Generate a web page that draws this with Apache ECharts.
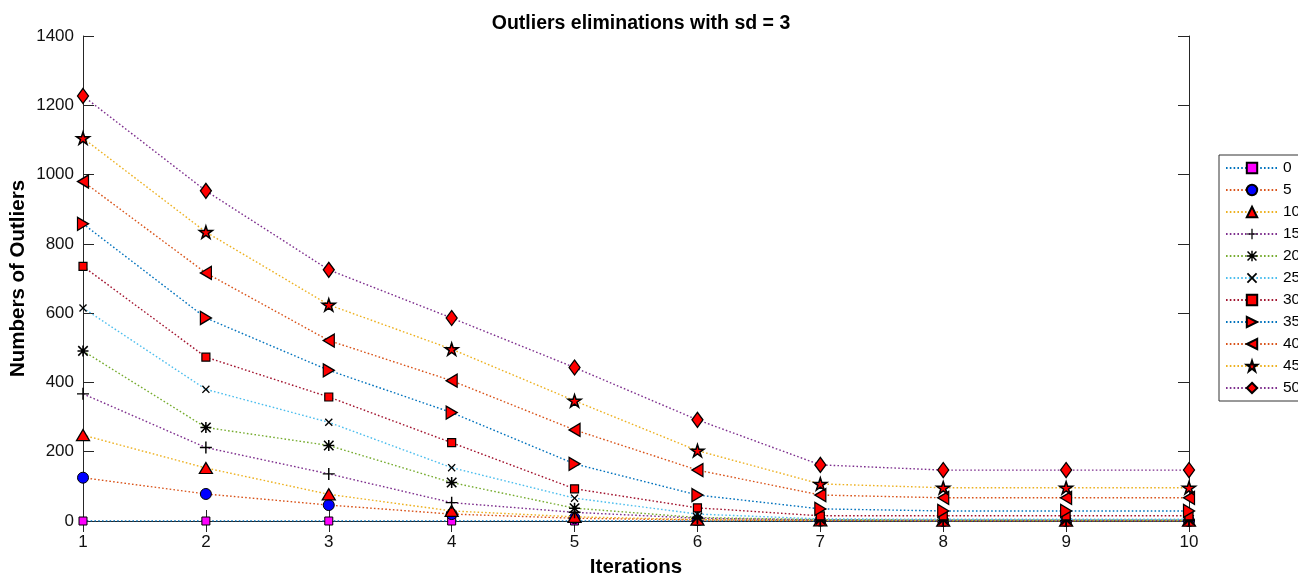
<!DOCTYPE html>
<html>
<head>
<meta charset="utf-8">
<script src="https://cdn.jsdelivr.net/npm/echarts@6/dist/echarts.min.js"></script>
<style>
html,body{margin:0;padding:0;background:#fff;}
#chart{width:1298px;height:578px;}
</style>
</head>
<body>
<div id="chart"></div>
<script>
// ---- data ----
var iterations = [1, 2, 3, 4, 5, 6, 7, 8, 9, 10];
var seriesNames = ['0', '5', '10', '15', '20', '25', '30', '35', '40', '45', '50'];
var s0  = [0, 0, 0, 0, 0, 0, 0, 0, 0, 0];
var s5  = [125, 78, 46, 20, 8, 3, 1, 0, 0, 0];
var s10 = [248, 153, 77, 29, 12, 4, 2, 1, 1, 1];
var s15 = [367, 212, 136, 53, 25, 8, 3, 2, 2, 2];
var s20 = [491, 270, 218, 111, 37, 10, 4, 3, 3, 3];
var s25 = [615, 380, 285, 154, 66, 20, 6, 5, 5, 5];
var s30 = [735, 473, 358, 226, 93, 38, 15, 15, 15, 15];
var s35 = [858, 586, 435, 313, 165, 75, 35, 29, 29, 29];
var s40 = [980, 716, 521, 405, 263, 147, 75, 67, 67, 67];
var s45 = [1105, 834, 624, 496, 347, 203, 107, 96, 96, 96];
var s50 = [1227, 953, 725, 586, 443, 292, 162, 147, 147, 147];
var yTicks = [0, 200, 400, 600, 800, 1000, 1200, 1400];

var allValues = [s0, s5, s10, s15, s20, s25, s30, s35, s40, s45, s50];

// ---- styles ----
var lineColors = ['#0072BD', '#D95319', '#EDB120', '#7E2F8E', '#77AC30', '#4DBEEE', '#A2142F', '#0072BD', '#D95319', '#EDB120', '#7E2F8E'];
var PLUS = 'path://M4.4,0 H5.6 V4.4 H10 V5.6 H5.6 V10 H4.4 V5.6 H0 V4.4 H4.4 Z';
var XS = 'path://M0,1.2 L1.2,0 L5,3.8 L8.8,0 L10,1.2 L6.2,5 L10,8.8 L8.8,10 L5,6.2 L1.2,10 L0,8.8 L3.8,5 Z';
var AST = 'path://M4.3,0 H5.7 V4.3 H10 V5.7 H5.7 V10 H4.3 V5.7 H0 V4.3 H4.3 Z M1.2,0.2 L5,4 L8.8,0.2 L9.8,1.2 L6,5 L9.8,8.8 L8.8,9.8 L5,6 L1.2,9.8 L0.2,8.8 L4,5 L0.2,1.2 Z';
var STAR = 'path://M100,0 L122.45,69.1 L195.1,69.1 L136.3,111.8 L158.8,180.9 L100,138.2 L41.2,180.9 L63.7,111.8 L4.9,69.1 L77.55,69.1 Z';
var RTRI = 'path://M0,0 L10,5 L0,10 Z';
var LTRI = 'path://M10,0 L0,5 L10,10 Z';
var markers = [
  {symbol: 'rect', size: 8, fill: '#FF00FF', border: '#000', bw: 1},
  {symbol: 'circle', size: 11, fill: '#0000FF', border: '#000', bw: 1},
  {symbol: 'triangle', size: [13, 11], fill: '#FF0000', border: '#000', bw: 1.3},
  {symbol: PLUS, size: 12, fill: '#000', border: '#000', bw: 0},
  {symbol: AST, size: 11, fill: '#000', border: '#000', bw: 0},
  {symbol: XS, size: 8, fill: '#000', border: '#000', bw: 0},
  {symbol: 'rect', size: 8, fill: '#FF0000', border: '#000', bw: 1.2},
  {symbol: RTRI, size: [11, 13], fill: '#FF0000', border: '#000', bw: 1.3},
  {symbol: LTRI, size: [11, 13], fill: '#FF0000', border: '#000', bw: 1.3},
  {symbol: STAR, size: 13, fill: '#FF0000', border: '#000', bw: 1.5},
  {symbol: 'diamond', size: [11, 15], fill: '#FF0000', border: '#000', bw: 1.3}
];

var FONT = 'Liberation Sans, Arial, Helvetica, sans-serif';
var AX = '#262626';

var series = seriesNames.map(function (name, i) {
  var m = markers[i];
  return {
    name: name,
    type: 'line',
    data: iterations.map(function (x, k) { return [x, allValues[i][k]]; }),
    symbol: m.symbol,
    symbolSize: m.size,
    symbolKeepAspect: true,
    showAllSymbol: true,
    animation: false,
    lineStyle: {color: lineColors[i], width: 1.4, type: [1.6, 2.2]},
    itemStyle: {color: m.fill, borderColor: m.border, borderWidth: m.bw, opacity: 1},
    emphasis: {disabled: true},
    z: 2 + i
  };
});

var chart = echarts.init(document.getElementById('chart'), null, {renderer: 'canvas'});
chart.setOption({
  backgroundColor: '#fff',
  animation: false,
  title: {
    text: 'Outliers eliminations with sd = 3',
    left: 636,
    textAlign: 'center',
    top: 9,
    textStyle: {fontFamily: FONT, fontSize: 19.5, fontWeight: 'bold', color: '#000'}
  },
  grid: {left: 83, right: 109, top: 36, bottom: 57, containLabel: false, outerBoundsMode: 'none'},
  legend: {
    orient: 'vertical',
    left: 1219,
    top: 155,
    padding: [5, 20, 5, 6],
    itemWidth: 52,
    itemHeight: 13,
    itemGap: 6,
    borderColor: '#333',
    borderWidth: 1,
    backgroundColor: '#fff',
    textStyle: {fontFamily: FONT, fontSize: 15.5, color: '#000'},
    data: seriesNames
  },
  xAxis: [{
    type: 'value', min: 1, max: 10, interval: 1, position: 'bottom',
    name: 'Iterations', nameLocation: 'middle', nameGap: 36, nameMoveOverlap: false,
    nameTextStyle: {fontFamily: FONT, fontSize: 20.5, fontWeight: 'bold', color: '#000'},
    axisLine: {show: true, lineStyle: {color: AX, width: 1}},
    axisTick: {show: true, inside: true, length: 11, lineStyle: {color: AX}},
    axisLabel: {fontFamily: FONT, fontSize: 17, color: '#111', margin: 13},
    splitLine: {show: false}
  }, {
    type: 'value', min: 1, max: 10, interval: 1, position: 'top',
    axisLine: {show: true, lineStyle: {color: AX, width: 1}},
    axisTick: {show: true, inside: true, length: 11, lineStyle: {color: AX}},
    axisLabel: {show: false},
    splitLine: {show: false}
  }],
  yAxis: [{
    type: 'value', min: yTicks[0], max: yTicks[yTicks.length - 1], interval: 200, position: 'left',
    name: 'Numbers of Outliers', nameLocation: 'middle', nameGap: 54, nameMoveOverlap: false,
    nameTextStyle: {fontFamily: FONT, fontSize: 20.5, fontWeight: 'bold', color: '#000'},
    axisLine: {show: true, lineStyle: {color: AX, width: 1}},
    axisTick: {show: true, inside: true, length: 11, lineStyle: {color: AX}},
    axisLabel: {fontFamily: FONT, fontSize: 17, color: '#111', margin: 9,
      formatter: function (v) { return String(v); }},
    splitLine: {show: false}
  }, {
    type: 'value', min: yTicks[0], max: yTicks[yTicks.length - 1], interval: 200, position: 'right',
    axisLine: {show: true, lineStyle: {color: AX, width: 1}},
    axisTick: {show: true, inside: true, length: 11, lineStyle: {color: AX}},
    axisLabel: {show: false},
    splitLine: {show: false}
  }],
  series: series
});
</script>
</body>
</html>
